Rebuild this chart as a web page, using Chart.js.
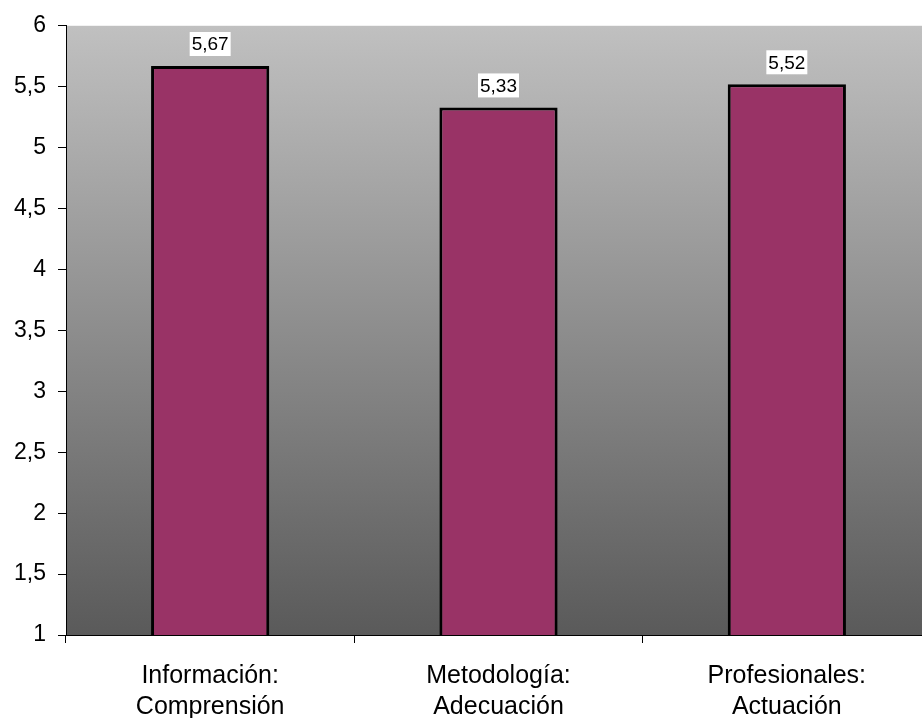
<!DOCTYPE html>
<html>
<head>
<meta charset="utf-8">
<script src="https://cdn.jsdelivr.net/npm/chart.js@4/dist/chart.umd.min.js"></script>
<style>
  html, body { margin: 0; padding: 0; overflow: hidden; background: #fff; }
</style>
</head>
<body>
<canvas id="stage" width="940" height="718"></canvas>
<script>
// datos
var categorias = [['Información:', 'Comprensión'], ['Metodología:', 'Adecuación'], ['Profesionales:', 'Actuación']];
var valores = [5.67, 5.33, 5.52];
var ejeMin = 1;
var ejeMax = 6;
var paso = 0.5;

function coma(v) {
  return String(v).replace('.', ',');
}

// fondo degradado del area del grafico
var fondo = {
  id: 'fondo',
  beforeDraw: function(chart) {
    var a = chart.chartArea;
    var ctx = chart.ctx;
    var g = ctx.createLinearGradient(0, a.top, 0, a.bottom);
    g.addColorStop(0, '#c0c0c0');
    g.addColorStop(1, '#5a5a5a');
    ctx.save();
    ctx.fillStyle = g;
    ctx.fillRect(a.left, a.top, a.right - a.left, a.bottom - a.top);
    ctx.restore();
  }
};

// etiquetas de valor con caja blanca
var etiquetas = {
  id: 'etiquetas',
  afterDatasetsDraw: function(chart) {
    var ctx = chart.ctx;
    var meta = chart.getDatasetMeta(0);
    ctx.save();
    ctx.font = '19px "Liberation Sans", Arial, sans-serif';
    ctx.textAlign = 'center';
    ctx.textBaseline = 'middle';
    meta.data.forEach(function(bar, i) {
      var txt = coma(valores[i]);
      var w = ctx.measureText(txt).width + 4;
      var h = 24;
      var cy = bar.y - 22;
      ctx.fillStyle = '#fff';
      ctx.fillRect(bar.x - w / 2, cy - h / 2, w, h);
      ctx.fillStyle = '#000';
      ctx.fillText(txt, bar.x, cy + 1);
    });
    ctx.restore();
  }
};

var mydata = {
  labels: categorias,
  datasets: [
    {
      data: valores,
      backgroundColor: '#993366',
      borderColor: '#000',
      borderWidth: 3,
      borderSkipped: false,
      barPercentage: 0.41,
      categoryPercentage: 1
    }
  ]
};

var options = {
  responsive: false,
  animation: false,
  devicePixelRatio: 1,
  layout: { padding: { top: 25, right: 9, left: 0, bottom: 0 } },
  plugins: {
    legend: { display: false },
    tooltip: { enabled: false }
  },
  scales: {
    x: {
      grid: { drawOnChartArea: false, tickLength: 8, color: '#000' },
      border: { color: '#000', width: 1 },
      ticks: {
        color: '#000',
        padding: 17,
        font: { family: '"Liberation Sans", Arial, sans-serif', size: 25, lineHeight: 1.25 }
      },
      afterFit: function(s) { s.height = 83; }
    },
    y: {
      min: ejeMin,
      max: ejeMax,
      grid: { drawOnChartArea: false, tickLength: 8, color: '#000' },
      border: { color: '#000', width: 1 },
      ticks: {
        stepSize: paso,
        color: '#000',
        padding: 12,
        font: { family: '"Liberation Sans", Arial, sans-serif', size: 23 },
        callback: function(v) { return coma(v); }
      },
      afterFit: function(s) { s.width = 66; }
    }
  }
};

var canvas = document.getElementById('stage');
var chart = new Chart(canvas, {
  type: 'bar',
  data: mydata,
  options: options,
  plugins: [fondo, etiquetas]
});
</script>
</body>
</html>
